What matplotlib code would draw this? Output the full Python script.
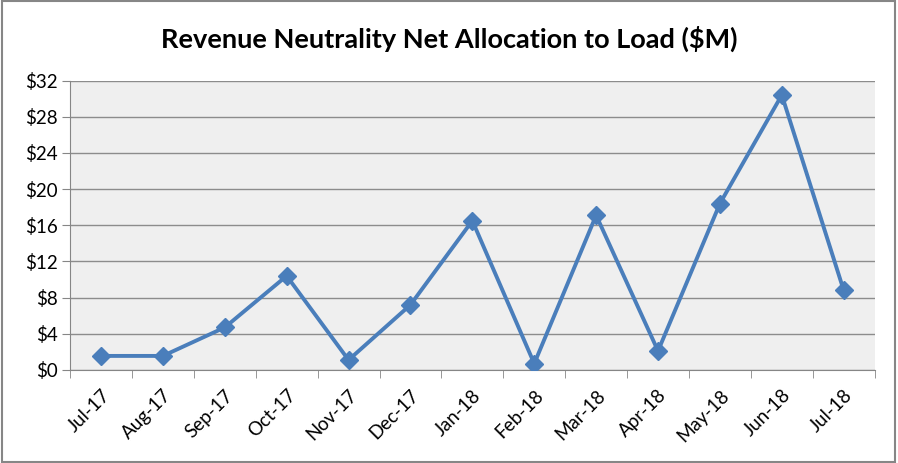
import numpy as np
import matplotlib
matplotlib.use("Agg")
import matplotlib.pyplot as plt
from matplotlib.patches import Rectangle

months = ["Jul-17", "Aug-17", "Sep-17", "Oct-17", "Nov-17", "Dec-17", "Jan-18",
          "Feb-18", "Mar-18", "Apr-18", "May-18", "Jun-18", "Jul-18"]
allocation = [1.55, 1.55, 4.7, 10.4, 1.1, 7.2, 16.5, 0.7, 17.1, 2.1, 18.4, 30.4, 8.8]
y_ticks = [0, 4, 8, 12, 16, 20, 24, 28, 32]

plt.rcParams['font.family'] = ['Lato', 'DejaVu Sans']

fig = plt.figure(figsize=(8.98, 4.63), dpi=100)
ax = fig.add_axes([0.078, 0.201, 0.896, 0.625])

# outer chart border
fig.patches.append(Rectangle((0.002, 0.003), 0.995, 0.994, transform=fig.transFigure,
                             fill=False, edgecolor='#868686', linewidth=1.5))

ax.set_facecolor('#EFEFEF')
x = np.arange(len(months))
ax.plot(x, allocation, color='#4A7EBB', linewidth=2.8, marker='D', markersize=9,
        markeredgecolor='#4A7EBB', markerfacecolor='#4A7EBB', zorder=3)

ax.set_xlim(-0.5, len(months) - 0.5)
ax.set_ylim(0, 32)
ax.set_yticks(y_ticks)
ax.set_yticklabels(["$%d" % v for v in y_ticks])
ax.yaxis.grid(True, color='#8C8C8C', linewidth=1)
ax.set_axisbelow(True)

ax.set_xticks(x)
ax.set_xticklabels(months, rotation=45, ha='right', rotation_mode='anchor')
ax.set_xticks(np.arange(-0.5, len(months)), minor=True)
ax.tick_params(axis='x', which='major', length=0, pad=12, labelsize=13.5)
ax.tick_params(axis='x', which='minor', length=6, color='#868686', direction='out')
ax.tick_params(axis='y', length=6, color='#868686', labelsize=13.5, pad=3)

for s in ['top', 'right']:
    ax.spines[s].set_visible(False)
ax.spines['left'].set_color('#868686')
ax.spines['bottom'].set_color('#868686')

fig.text(0.5, 0.915, "Revenue Neutrality Net Allocation to Load ($M)", ha='center',
         va='center', fontsize=19.5, fontweight='bold')

fig.savefig("out.png", dpi=100)
